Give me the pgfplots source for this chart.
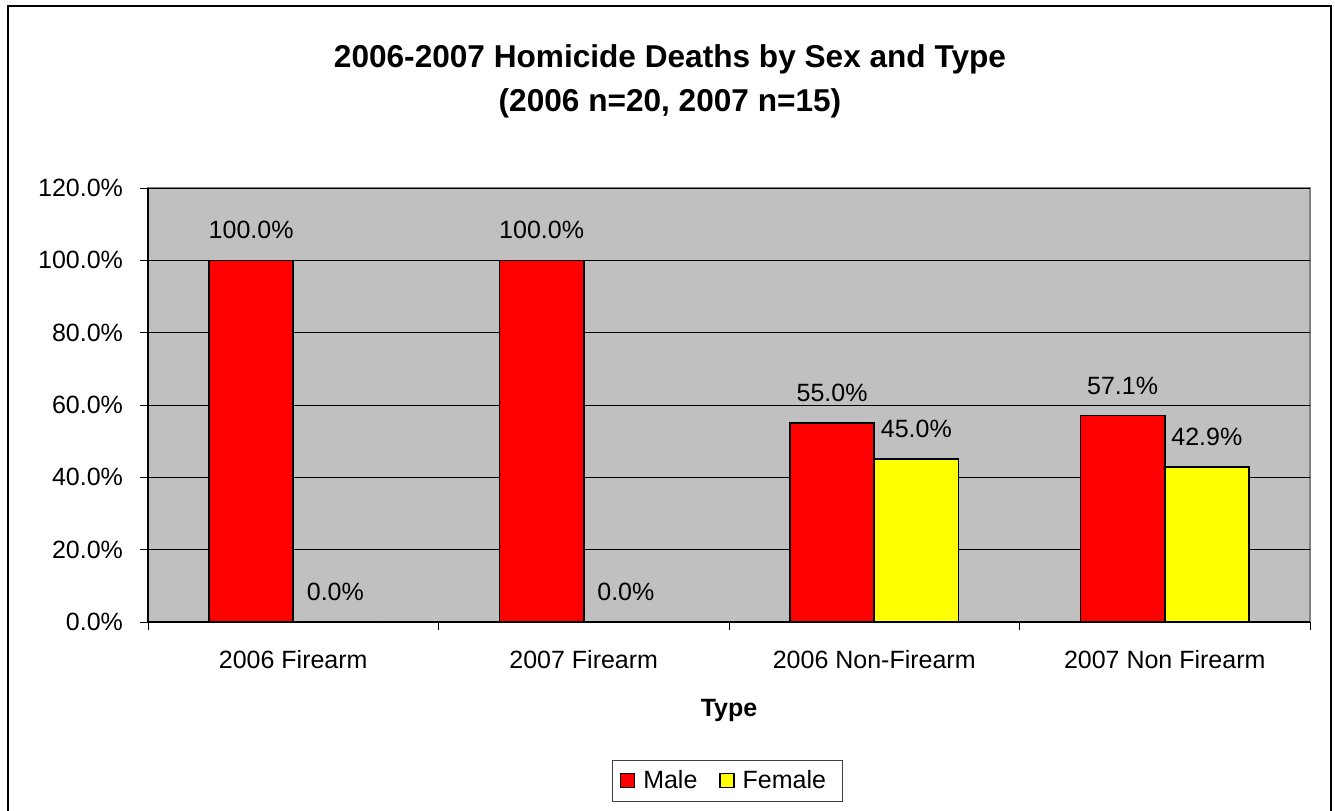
\documentclass[border=0pt]{standalone}
\usepackage{pgfplots}
\pgfplotsset{compat=1.18}
\usepackage{fontspec}
\setmainfont{Liberation Sans}
\definecolor{barred}{RGB}{255,0,0}
\definecolor{baryellow}{RGB}{255,255,0}
\definecolor{plotgray}{RGB}{192,192,192}
\definecolor{bordergray}{RGB}{128,128,128}
\begin{document}
\begin{tikzpicture}
\path[use as bounding box] (0,0) rectangle (667.5pt,405pt);
\draw[line width=1pt] (4pt,-5pt) -- (4pt,402pt) -- (665.5pt,402pt) -- (665.5pt,-5pt);
\node[font=\bfseries\fontsize{15.8}{22}\selectfont, align=center] at (335pt,364.5pt)
  {2006-2007 Homicide Deaths by Sex and Type\\(2006 n=20, 2007 n=15)};
\begin{axis}[
  at={(74pt,94pt)}, anchor=south west, scale only axis,
  width=581pt, height=217pt,
  ybar=0pt, bar width=0.29,
  xmin=-0.5, xmax=3.5, ymin=0, ymax=120,
  axis x line=bottom, axis y line=left,
  axis line style={-, black, line width=0.6pt},
  axis background/.style={fill=plotgray, draw=bordergray, line width=0.6pt},
  xtick={0,1,2,3},
  xticklabels={2006 Firearm,2007 Firearm,2006 Non-Firearm,2007 Non Firearm},
  minor xtick={-0.5,0.5,1.5,2.5,3.5},
  major x tick style={draw=none},
  minor x tick style={black, line width=0.5pt},
  ytick={0,20,40,60,80,100,120},
  yticklabels={0.0\%,20.0\%,40.0\%,60.0\%,80.0\%,100.0\%,120.0\%},
  ymajorgrids, grid style={black, line width=0.5pt},
  tick align=outside, major tick length=4pt, minor tick length=4pt,
  tick style={black, line width=0.5pt},
  every tick label/.append style={font=\fontsize{12.5}{15}\selectfont},
  xticklabel style={anchor=center, yshift=-15pt},
  yticklabel style={anchor=east, xshift=-5pt},
  xlabel={Type},
  xlabel style={font=\bfseries\fontsize{12.5}{15}\selectfont, at={(axis description cs:0.5,0)}, anchor=center, yshift=-44pt},
  /pgf/number format/assume math mode=true,
  nodes near coords={\pgfmathprintnumber[fixed,fixed zerofill,precision=1]{\pgfplotspointmeta}\%},
  nodes near coords style={anchor=center, yshift=15pt, font=\fontsize{12.5}{15}\selectfont, black},
  legend columns=2,
  legend style={at={(axis description cs:0.4983,-0.366)}, anchor=center, draw=black!75, line width=0.5pt,
    font=\fontsize{12.5}{15}\selectfont, inner xsep=4pt, inner ysep=3pt,
    /tikz/every even column/.append style={column sep=7pt},
    /tikz/every odd column/.append style={column sep=0pt},
    nodes={inner xsep=4pt}},
  legend image code/.code={\draw[#1, draw=black, line width=0.6pt] (0pt,-3.5pt) rectangle (7pt,3.5pt);},
]
\addplot[fill=barred, draw=black, line width=0.8pt] coordinates {(0,100) (1,100) (2,55.0) (3,57.1)};
\addplot[fill=baryellow, draw=black, line width=0.8pt] coordinates {(0,0) (1,0) (2,45.0) (3,42.9)};
\legend{Male,Female}
\end{axis}
\end{tikzpicture}
\end{document}
